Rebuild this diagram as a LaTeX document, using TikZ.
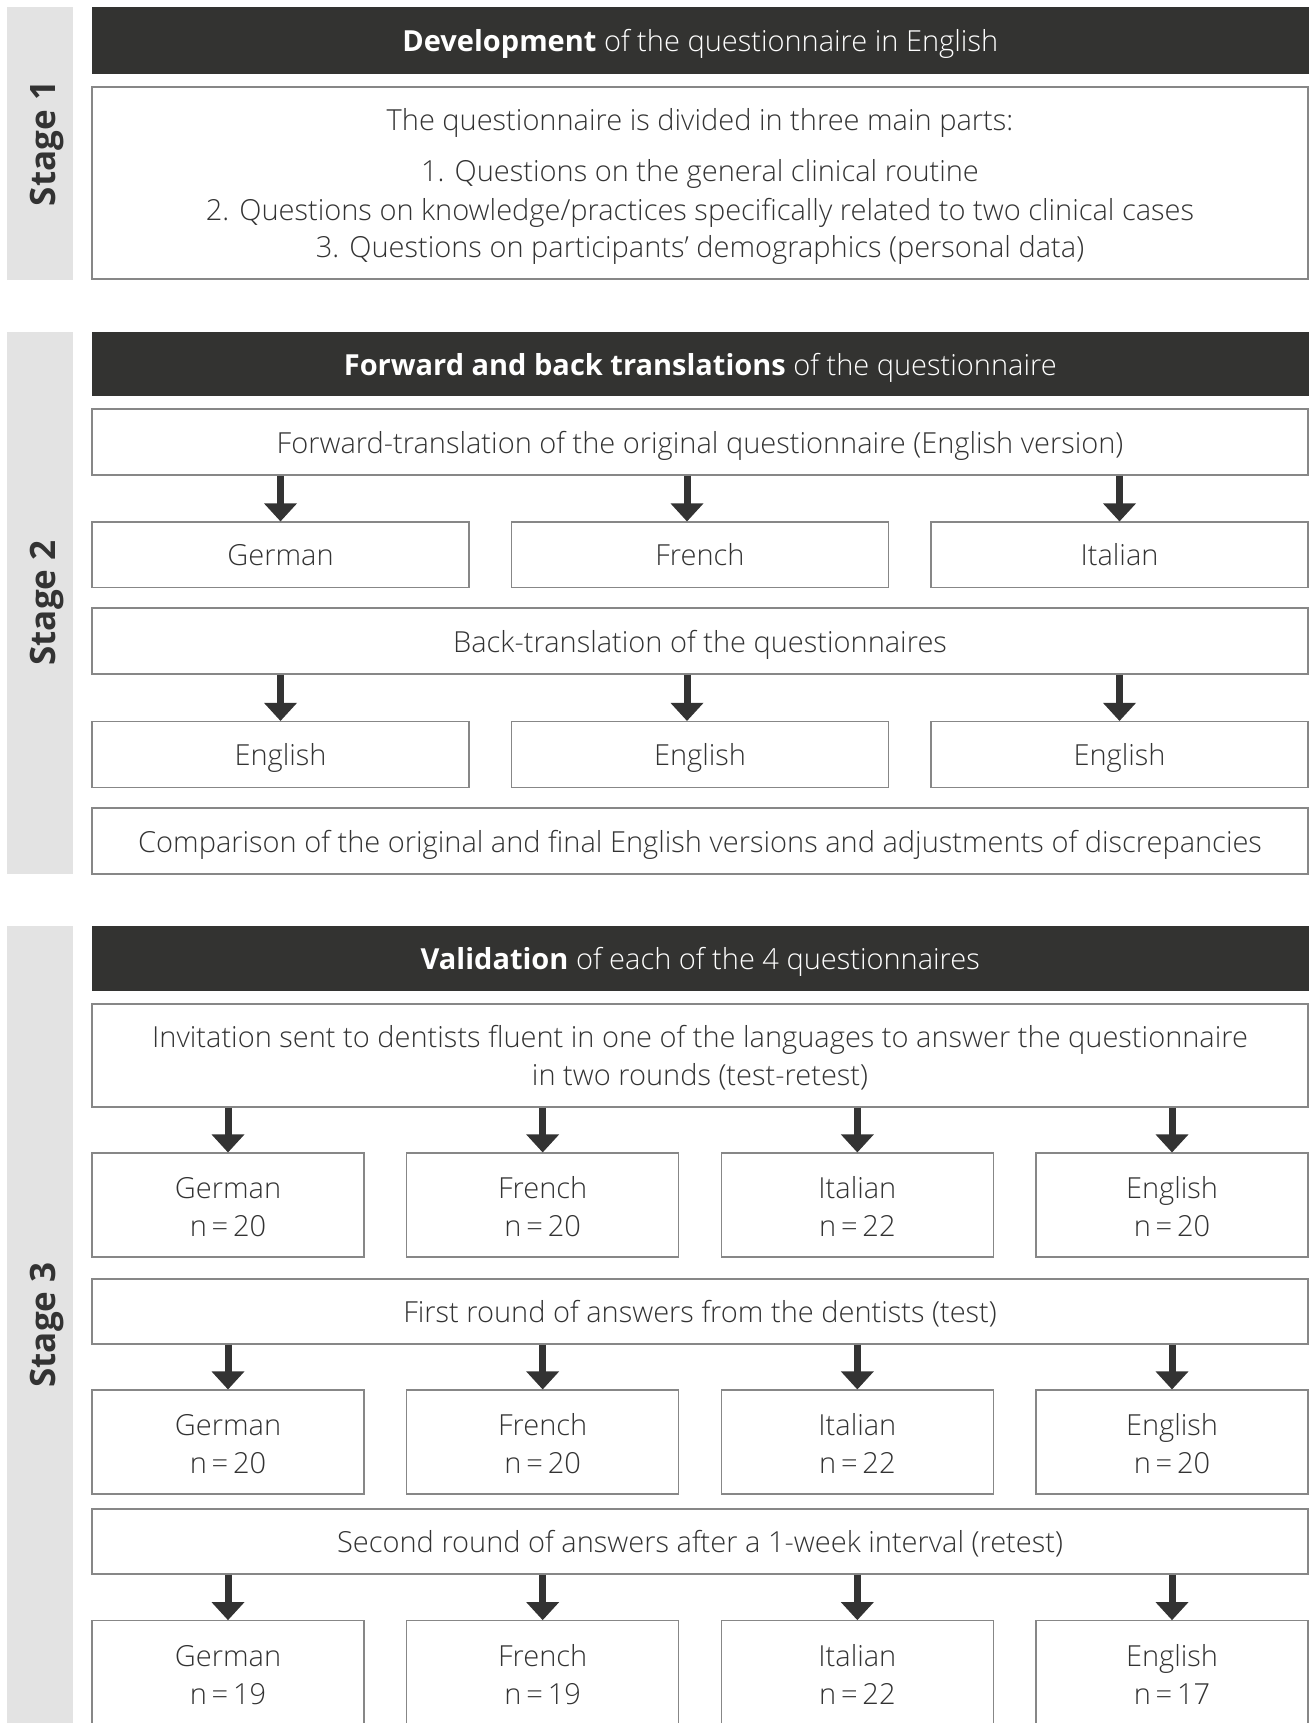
\documentclass[tikz,border=0pt]{standalone}
\usepackage{fontspec}
\setmainfont{Open Sans Light}[BoldFont={Open Sans Bold}]
\usetikzlibrary{arrows.meta}
\definecolor{txt}{HTML}{333333}
\definecolor{dark}{HTML}{333331}
\definecolor{stagebg}{HTML}{E3E3E3}
\definecolor{border}{HTML}{878787}
\newcommand\bodyfnt{\fontsize{29}{34}\selectfont}
\newcommand\stagefnt{\fontsize{35}{35}\selectfont\bfseries}
% connector: shaft from #1 to just above #2, then a filled head ending on #2
\newcommand\dnarrow[2]{%
  \draw[shaft] (#1) -- ([yshift=16pt]#2);
  \fill[txt] (#2) -- ++(-16.5,-18) -- ++(33,0) -- cycle;}
\begin{document}
\begin{tikzpicture}[x=1pt,y=-1pt,
  stagebar/.style={fill=stagebg, draw=none, minimum width=65.5pt, inner sep=0pt},
  stagelabel/.style={rotate=90, anchor=base, font=\stagefnt, text=txt, inner sep=0pt},
  header/.style={fill=dark, draw=none, minimum width=1216.5pt, inner sep=0pt},
  htext/.style={anchor=base, text=white, font=\bodyfnt, inner sep=0pt},
  box/.style={draw=border, line width=1.2pt, fill=white, inner sep=0pt},
  wide/.style={box, minimum width=1216pt},
  col3/.style={box, minimum width=377pt},
  col4/.style={box, minimum width=272pt, minimum height=104pt},
  btext/.style={anchor=base, text=txt, font=\bodyfnt, inner sep=0pt},
  shaft/.style={draw=txt, line width=7pt}
]
\useasboundingbox (0,0) rectangle (1310,1723);
\clip (0,0) rectangle (1310,1723);

% ---------------- Stage 1
\node[stagebar, minimum height=273pt] (s1) at (39.75,143.5) {};
\node[stagelabel] (s1l) at (55.5,143.5) {Stage 1};
\node[header, minimum height=67pt] (h1) at (700.25,40.5) {};
\node[htext] (h1t) at (700.25,51.5) {\textbf{Development} of the questionnaire in English};
\node[wide, minimum height=192pt] (b1) at (700,183) {};
\node[btext] (b1a) at (700,130.7) {The questionnaire is divided in three main parts:};
\node[btext] (b1b) at (700,181.7) {1. Questions on the general clinical routine};
\node[btext] (b1c) at (700,220) {2. Questions on knowledge/practices specifically related to two clinical cases};
\node[btext] (b1d) at (700,257) {3. Questions on participants’ demographics (personal data)};

% ---------------- Stage 2
\node[stagebar, minimum height=542pt] (s2) at (39.75,603) {};
\node[stagelabel] (s2l) at (55.5,603) {Stage 2};
\node[header, minimum height=64pt] (h2) at (700.25,364) {};
\node[htext] (h2t) at (700.25,375) {\textbf{Forward and back translations} of the questionnaire};
\node[wide, minimum height=66pt] (fwd) at (700,442) {};
\node[btext] (fwdt) at (700,453) {Forward-translation of the original questionnaire (English version)};

\node[col3, minimum height=65.5pt] (la1) at (280.5,554.75) {};
\node[col3, minimum height=65.5pt] (la2) at (700,554.75) {};
\node[col3, minimum height=65.5pt] (la3) at (1119.5,554.75) {};
\node[btext] (la1t) at (280.5,565.5) {German};
\node[btext] (la2t) at (700,565.5) {French};
\node[btext] (la3t) at (1119.5,565.5) {Italian};
\coordinate (fa) at ([xshift=-13pt]la2.north);
\dnarrow{fwd.south -| la1.north}{la1.north}
\dnarrow{fwd.south -| fa}{fa}
\dnarrow{fwd.south -| la3.north}{la3.north}

\node[wide, minimum height=66pt] (back) at (700,641) {};
\node[btext] (backt) at (700,652) {Back-translation of the questionnaires};

\node[col3, minimum height=66pt] (en1) at (280.5,754.5) {};
\node[col3, minimum height=66pt] (en2) at (700,754.5) {};
\node[col3, minimum height=66pt] (en3) at (1119.5,754.5) {};
\node[btext] (en1t) at (280.5,765) {English};
\node[btext] (en2t) at (700,765) {English};
\node[btext] (en3t) at (1119.5,765) {English};
\coordinate (fb) at ([xshift=-13pt]en2.north);
\dnarrow{back.south -| en1.north}{en1.north}
\dnarrow{back.south -| fb}{fb}
\dnarrow{back.south -| en3.north}{en3.north}

\node[wide, minimum height=66pt] (comp) at (700,841) {};
\node[btext] (compt) at (700,852) {Comparison of the original and final English versions and adjustments of discrepancies};

% ---------------- Stage 3
\node[stagebar, minimum height=804pt] (s3) at (39.75,1328) {};
\node[stagelabel] (s3l) at (55.5,1325) {Stage 3};
\node[header, minimum height=65pt] (h3) at (700.25,958.5) {};
\node[htext] (h3t) at (700.25,969.5) {\textbf{Validation} of each of the 4 questionnaires};
\node[wide, minimum height=103pt] (inv) at (700,1055.5) {};
\node[btext] (inva) at (700,1047) {Invitation sent to dentists fluent in one of the languages to answer the questionnaire};
\node[btext] (invb) at (700,1085) {in two rounds (test-retest)};

\foreach \i/\x/\lang/\n in {1/228/German/20, 2/542.67/French/20, 3/857.33/Italian/22, 4/1172/English/20} {
  \node[col4] (ra\i) at (\x,1205) {};
  \node[btext] (ra\i a) at (\x,1198) {\lang};
  \node[btext] (ra\i b) at (\x,1236) {n\,=\,\n};
  \dnarrow{inv.south -| ra\i.north}{ra\i.north}
}

\node[wide, minimum height=65pt] (first) at (700,1311.5) {};
\node[btext] (firstt) at (700,1322) {First round of answers from the dentists (test)};

\foreach \i/\x/\lang/\n in {1/228/German/20, 2/542.67/French/20, 3/857.33/Italian/22, 4/1172/English/20} {
  \node[col4] (rb\i) at (\x,1442) {};
  \node[btext] (rb\i a) at (\x,1435) {\lang};
  \node[btext] (rb\i b) at (\x,1473) {n\,=\,\n};
  \dnarrow{first.south -| rb\i.north}{rb\i.north}
}

\node[wide, minimum height=65pt] (second) at (700,1541.5) {};
\node[btext] (secondt) at (700,1552) {Second round of answers after a 1-week interval (retest)};

\foreach \i/\x/\lang/\n in {1/228/German/19, 2/542.67/French/19, 3/857.33/Italian/22, 4/1172/English/17} {
  \node[col4] (rc\i) at (\x,1672.7) {};
  \node[btext] (rc\i a) at (\x,1666) {\lang};
  \node[btext] (rc\i b) at (\x,1704) {n\,=\,\n};
  \dnarrow{second.south -| rc\i.north}{rc\i.north}
}
\end{tikzpicture}
\end{document}
